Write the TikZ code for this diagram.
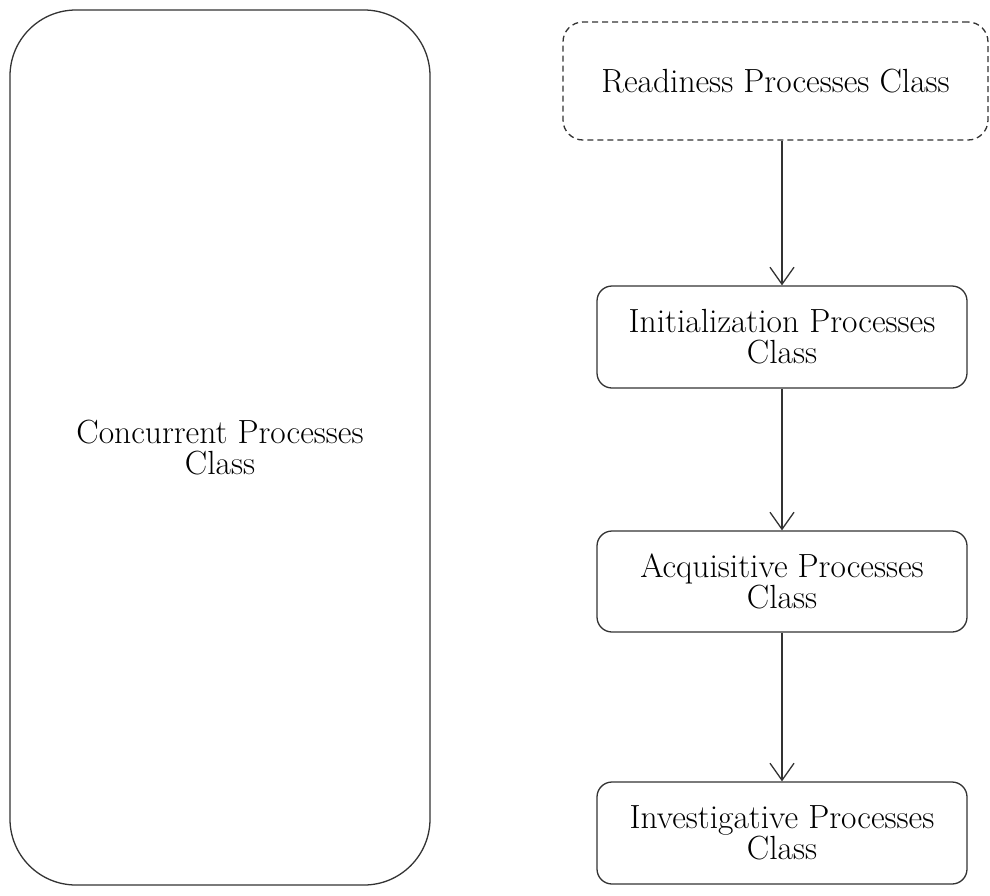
\documentclass[tikz,border=0pt]{standalone}
\usetikzlibrary{arrows.meta}
\begin{document}
\begin{tikzpicture}[x=1pt,y=-1pt,
  every node/.style={text=black, font=\fontsize{33.5}{31}\selectfont, align=center, inner sep=0pt},
  box/.style={draw=black!80, line width=1.3pt, rounded corners=15pt},
  flow/.style={draw=black!80, line width=1.3pt, -{Straight Barb[length=17pt,width=24pt,line width=1.3pt]}}]
  \useasboundingbox (0,0) rectangle (990,895);
  % tall side box
  \node[box, rounded corners=66pt, minimum width=420pt, minimum height=875pt] (conc) at (220,447.5) {Concurrent Processes\\Class};
  % sequence of process classes
  \node[box, dashed, dash pattern=on 6pt off 4pt, rounded corners=20pt, minimum width=425pt, minimum height=118pt] (ready) at (775.5,81) {Readiness Processes Class};
  \node[box, minimum width=370pt, minimum height=102pt] (init) at (782,337) {Initialization Processes\\Class};
  \node[box, minimum width=370pt, minimum height=101pt] (acq) at (782,581.5) {Acquisitive Processes\\Class};
  \node[box, minimum width=370pt, minimum height=102pt] (inv) at (782,833) {Investigative Processes\\Class};
  \draw[flow] (init.north |- ready.south) -- (init.north);
  \draw[flow] (init.south) -- (acq.north);
  \draw[flow] (acq.south) -- (inv.north);
\end{tikzpicture}
\end{document}
